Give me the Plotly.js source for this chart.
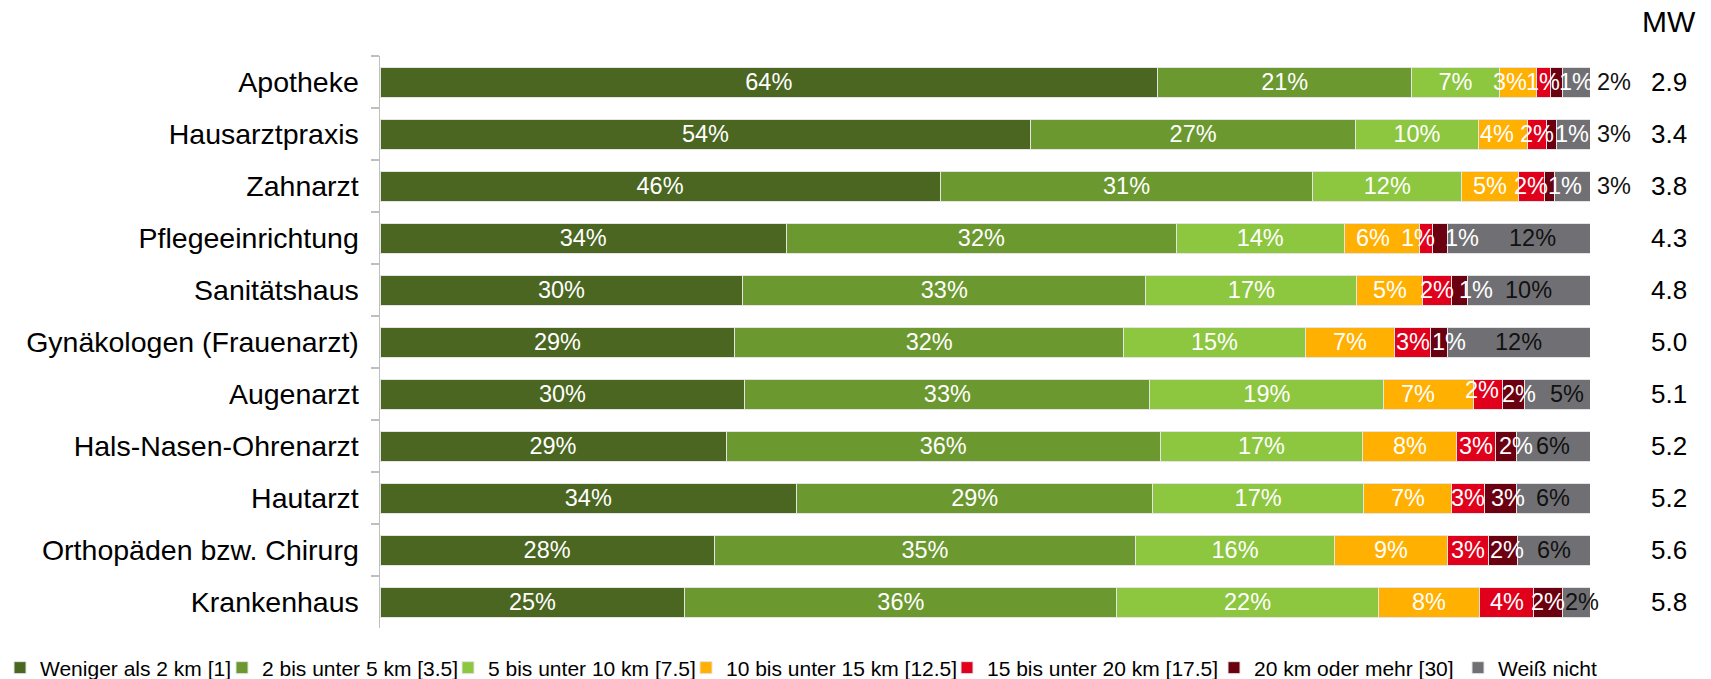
<!DOCTYPE html>
<html><head><meta charset="utf-8">
<script src="https://cdn.plot.ly/plotly-3.0.1.min.js"></script>
<style>html,body{margin:0;padding:0;background:#fff}#chart{width:1711px;height:679px}</style>
</head><body><div id="chart"></div>
<script>
// ---- data ----
const categories = ['Apotheke','Hausarztpraxis','Zahnarzt','Pflegeeinrichtung','Sanitätshaus',
  'Gynäkologen (Frauenarzt)','Augenarzt','Hals-Nasen-Ohrenarzt','Hautarzt','Orthopäden bzw. Chirurg','Krankenhaus'];
const seriesNames = ['Weniger als 2 km [1]','2 bis unter 5 km [3.5]','5 bis unter 10 km [7.5]',
  '10 bis unter 15 km [12.5]','15 bis unter 20 km [17.5]','20 km oder mehr [30]','Weiß nicht'];
const unter2km   = [64.2, 53.8, 46.3, 33.6, 29.9, 29.3, 30.1, 28.6, 34.4, 27.6, 25.2];
const bis5km     = [21.0, 26.8, 30.8, 32.2, 33.2, 32.1, 33.4, 35.9, 29.4, 34.8, 35.7];
const bis10km    = [ 7.2, 10.2, 12.3, 13.9, 17.4, 15.0, 19.3, 16.7, 17.4, 16.4, 21.6];
const bis15km    = [ 3.1,  4.0,  4.7,  6.2,  5.4,  7.4,  7.4,  7.8,  7.3,  9.3,  8.4];
const bis20km    = [ 1.1,  1.6,  2.1,  1.1,  2.4,  2.9,  2.4,  3.2,  2.7,  3.4,  4.4];
const ab20km     = [ 1.0,  0.8,  0.9,  1.2,  1.3,  1.4,  1.8,  1.7,  2.6,  2.4,  2.4];
const weissNicht = [ 2.3,  2.8,  2.9, 11.8, 10.1, 11.8,  5.4,  6.1,  6.1,  6.0,  2.3];
const mwValues   = [2.9, 3.4, 3.8, 4.3, 4.8, 5.0, 5.1, 5.2, 5.2, 5.6, 5.8];
const mwHeader = 'MW';

// ---- styling ----
const FONT = '"Liberation Sans", Arial, sans-serif';
const colors = ['#4a6621','#6b982f','#8dc63f','#ffb000','#e0001b','#6b0010','#707074'];
const labelColors = ['#ffffff','#ffffff','#ffffff','#ffffff','#ffffff','#ffffff','#111111'];
const legendWidths = [177, 181, 193, 216, 222, 199, 102];
const LABEL_SIZE = 23.5;
// label placement tweaks for the narrow segments (pixel nudges, as in the original chart)
const nudgeOrange  = [-8, -6, 0, -9, 0, 0, -11, 0, 0, 0, 0];
const nudgeRed     = [0, 0, 0, -8, 0, 0, -6, 0, 0, 0, 0];
const raiseRed     = [0, 0, 0, 0, 0, 0, 4, 0, 0, 0, 0];
const nudgeDarkRed = [20, 21, 16, 22, 16, 10, 5, 10, 8, 4, 0];
const nudgeGray    = [0, 0, 0, 14, 0, 0, 10, 0, 0, 0, 6];
const grayLabelOutside = [true, true, true, false, false, false, false, false, false, false, false];

const W = 1711, H = 679, ML = 380, MT = 56, MB = 51;
const PLOT_RIGHT = 1590;               // right end of the bars (px)
const gsW = W - ML;                    // paper width (right margin 0, axis domain shortened)
const px2paper = px => (px - ML) / gsW;

const series = [unter2km, bis5km, bis10km, bis15km, bis20km, ab20km, weissNicht];
const rowSum = categories.map((c, i) => series.reduce((s, a) => s + a[i], 0));
const pct = v => Math.round(v) + '%';
const INSIDE_TRACE_TEXT = 3;   // first three series carry their labels as bar text

const traces = series.map((vals, k) => ({
  type: 'bar', orientation: 'h', name: seriesNames[k],
  y: categories, x: vals,
  marker: {color: colors[k], line: {color: '#e4e4e4', width: 1}},
  legendwidth: legendWidths[k],
  text: k < INSIDE_TRACE_TEXT ? vals.map(pct) : undefined,
  textposition: k < INSIDE_TRACE_TEXT ? 'inside' : 'none',
  insidetextanchor: 'middle',
  textangle: 0,
  constraintext: 'none',
  insidetextfont: {family: FONT, size: LABEL_SIZE, color: labelColors[k]},
  hoverinfo: 'skip'
}));

const annotations = [];
const nudges = {3: nudgeOrange, 4: nudgeRed, 5: nudgeDarkRed, 6: nudgeGray};
categories.forEach((c, i) => {
  let cum = 0;
  series.forEach((vals, k) => {
    const startPct = cum / rowSum[i] * 100;
    cum += vals[i];
    const endPct = cum / rowSum[i] * 100;
    if (k < INSIDE_TRACE_TEXT) return;
    if (k === 6 && grayLabelOutside[i]) {
      annotations.push({x: 100, y: c, xref: 'x', yref: 'y', text: pct(vals[i]),
        xanchor: 'left', yanchor: 'middle', xshift: 5, showarrow: false,
        font: {family: FONT, size: LABEL_SIZE, color: labelColors[k]}});
      return;
    }
    annotations.push({x: (startPct + endPct) / 2, y: c, xref: 'x', yref: 'y', text: pct(vals[i]),
      xanchor: 'center', yanchor: 'middle', xshift: nudges[k][i],
      yshift: k === 4 ? raiseRed[i] : 0, showarrow: false,
      font: {family: FONT, size: LABEL_SIZE, color: labelColors[k]}});
  });
  annotations.push({x: px2paper(1669), y: c, xref: 'paper', yref: 'y', text: mwValues[i].toFixed(1),
    xanchor: 'center', yanchor: 'middle', showarrow: false,
    font: {family: FONT, size: 26, color: '#000000'}});
});
annotations.push({x: px2paper(1669), y: 1.061, xref: 'paper', yref: 'paper', text: mwHeader,
  xanchor: 'center', yanchor: 'middle', showarrow: false,
  font: {family: FONT, size: 30, color: '#000000'}});

const plotH = H - MT - MB;
const layout = {
  width: W, height: H,
  margin: {l: ML, r: 0, t: MT, b: MB, pad: 0, autoexpand: false},
  paper_bgcolor: '#ffffff', plot_bgcolor: '#ffffff',
  font: {family: FONT, color: '#000000'},
  barmode: 'stack', barnorm: 'percent', bargap: 0.423,
  uniformtext: {mode: 'show', minsize: LABEL_SIZE},
  showlegend: true,
  legend: {orientation: 'h', traceorder: 'normal', xref: 'paper', yref: 'paper',
    x: -ML / gsW, y: -(668 - (H - MB)) / plotH, xanchor: 'left', yanchor: 'middle', borderwidth: 0,
    font: {family: FONT, size: 21, color: '#000000'}, bgcolor: 'rgba(0,0,0,0)'},
  xaxis: {domain: [0, px2paper(PLOT_RIGHT)], range: [0, 100], visible: false,
    showgrid: false, zeroline: false, fixedrange: true},
  yaxis: {type: 'category', autorange: 'reversed', showgrid: false, zeroline: false,
    showline: true, linecolor: '#bfbfbf', linewidth: 1.5,
    ticks: 'outside', tickson: 'boundaries', ticklen: 8, tickcolor: '#bfbfbf', tickwidth: 1.5,
    ticklabelstandoff: 14,
    tickfont: {family: FONT, size: 28.5, color: '#000000'}},
  annotations: annotations
};

Plotly.newPlot('chart', traces, layout, {displayModeBar: false, staticPlot: true});
</script>
</body></html>
